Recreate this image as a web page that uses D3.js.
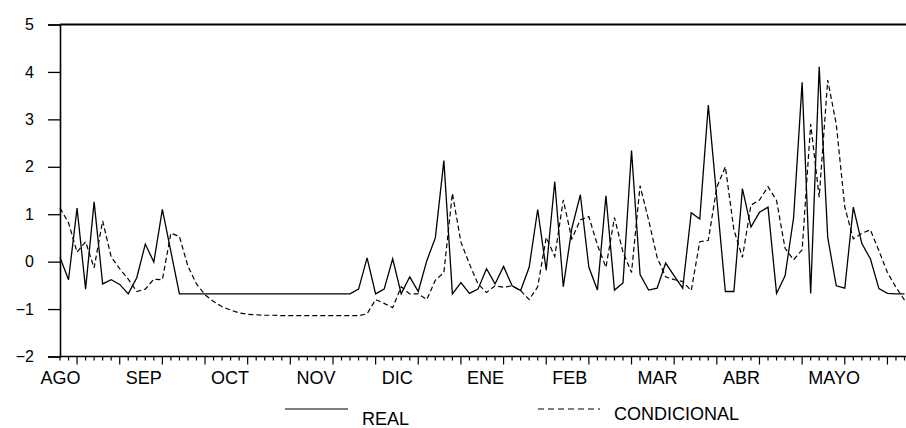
<!DOCTYPE html>
<html lang="es">
<head>
  <meta charset="utf-8">
  <title>Real vs condicional</title>
  <script src="https://d3js.org/d3.v7.min.js"></script>
  <style>
    body { margin: 0; background: #fff; }
    text { font-family: "Liberation Sans", Arial, sans-serif; fill: #000; }
  </style>
</head>
<body>
<svg id="chart" width="906" height="428"></svg>
<script>
  // month labels, one every 10 observations
  const months = ['AGO', 'SEP', 'OCT', 'NOV', 'DIC', 'ENE', 'FEB', 'MAR', 'ABR', 'MAYO']
  const yTicks = [-2, -1, 0, 1, 2, 3, 4, 5]

  // REAL series (solid)
  const real = [
    0.09, -0.38, 1.13, -0.58, 1.26, -0.47, -0.38, -0.48, -0.68, -0.34,
    0.37, -0.01, 1.10, 0.21, -0.68, -0.68, -0.68, -0.68, -0.68, -0.68,
    -0.68, -0.68, -0.68, -0.68, -0.68, -0.68, -0.68, -0.68, -0.68, -0.68,
    -0.68, -0.68, -0.68, -0.68, -0.68, -0.58, 0.08, -0.68, -0.58, 0.06,
    -0.68, -0.32, -0.63, 0.02, 0.50, 2.13, -0.68, -0.44, -0.67, -0.58,
    -0.15, -0.47, -0.10, -0.51, -0.61, -0.12, 1.10, -0.18, 1.69, -0.53,
    0.70, 1.41, -0.12, -0.60, 1.39, -0.60, -0.45, 2.34, -0.27, -0.60,
    -0.56, -0.03, -0.30, -0.56, 1.03, 0.90, 3.30, 1.33, -0.63, -0.63,
    1.54, 0.73, 1.04, 1.15, -0.67, -0.30, 0.93, 3.78, -0.67, 4.11,
    0.51, -0.51, -0.56, 1.15, 0.38, 0.06, -0.57, -0.67, -0.68, -0.68
  ]

  // CONDICIONAL series (dashed)
  const condicional = [
    1.13, 0.82, 0.20, 0.42, -0.13, 0.86, 0.10, -0.15, -0.37, -0.63,
    -0.58, -0.37, -0.38, 0.60, 0.53, -0.10, -0.47, -0.70, -0.84, -0.95,
    -1.02, -1.08, -1.11, -1.12, -1.13, -1.13, -1.14, -1.14, -1.14, -1.14,
    -1.14, -1.14, -1.14, -1.14, -1.14, -1.14, -1.10, -0.80, -0.88, -0.97,
    -0.53, -0.68, -0.68, -0.80, -0.39, -0.23, 1.44, 0.41, -0.05, -0.47,
    -0.65, -0.51, -0.54, -0.51, -0.61, -0.80, -0.53, 0.51, 0.11, 1.30,
    0.48, 0.88, 0.95, 0.35, -0.12, 0.93, 0.20, -0.23, 1.60, 0.88,
    0.09, -0.32, -0.38, -0.42, -0.61, 0.42, 0.45, 1.57, 2.00, 0.67,
    0.09, 1.19, 1.30, 1.58, 1.29, 0.28, 0.04, 0.25, 2.90, 1.36,
    3.83, 2.90, 1.15, 0.48, 0.60, 0.67, 0.23, -0.23, -0.54, -0.81
  ]

  const plotLeft = 60, plotRight = 906, plotTop = 24.5, plotBottom = 356.5

  const svg = d3.select("#chart")

  const x = d3.scaleLinear()
    .domain([0, real.length - 1])
    .range([plotLeft, 904.5])

  const y = d3.scaleLinear()
    .domain([-2, 5])
    .range([plotBottom, plotTop])

  // frame: top line
  svg.append("line")
    .attr("x1", plotLeft).attr("x2", plotRight)
    .attr("y1", plotTop).attr("y2", plotTop)
    .attr("stroke", "#000").attr("stroke-width", 2)

  // y axis
  const yAxis = svg.append("g")
    .attr("transform", `translate(${plotLeft},0)`)
    .call(d3.axisLeft(y).tickValues(yTicks).tickSize(12).tickPadding(14).tickFormat(d3.format("d")))
  yAxis.select(".domain").attr("stroke-width", 1.6)
  yAxis.selectAll(".tick line").attr("stroke-width", 1.3)
  yAxis.selectAll(".tick text")
    .attr("font-size", 16)
    .style("font-family", "'Liberation Sans', Arial, sans-serif")

  // bottom axis: a tick per observation, bigger tick every 5 (starting at 2)
  svg.append("line")
    .attr("x1", plotLeft).attr("x2", plotRight)
    .attr("y1", plotBottom).attr("y2", plotBottom)
    .attr("stroke", "#000").attr("stroke-width", 1.6)

  svg.append("g")
    .selectAll("line")
    .data(d3.range(real.length))
    .join("line")
      .attr("x1", d => x(d)).attr("x2", d => x(d))
      .attr("y1", plotBottom)
      .attr("y2", d => (d % 5 === 2) ? plotBottom + 8 : plotBottom + 4)
      .attr("stroke", "#000").attr("stroke-width", 1.2)

  svg.append("g")
    .selectAll("text")
    .data(months)
    .join("text")
      .attr("x", (d, i) => x(i * 10) - 19.5)
      .attr("y", 383.5)
      .attr("font-size", 18)
      .text(d => d)

  // series
  const line = d3.line()
    .x((d, i) => x(i))
    .y(d => y(d))

  svg.append("path")
    .datum(condicional)
    .attr("fill", "none")
    .attr("stroke", "#000")
    .attr("stroke-width", 1.2)
    .attr("stroke-dasharray", "5,3")
    .attr("d", line)

  svg.append("path")
    .datum(real)
    .attr("fill", "none")
    .attr("stroke", "#000")
    .attr("stroke-width", 1.3)
    .attr("d", line)

  // legend
  const legend = [
    { name: "REAL", x1: 285, x2: 348, tx: 362, ty: 425, dash: null },
    { name: "CONDICIONAL", x1: 538, x2: 600, tx: 614, ty: 420, dash: "6,4" }
  ]
  svg.append("g")
    .selectAll("line")
    .data(legend)
    .join("line")
      .attr("x1", d => d.x1).attr("x2", d => d.x2)
      .attr("y1", 409).attr("y2", 409)
      .attr("stroke", "#000").attr("stroke-width", 1.2)
      .attr("stroke-dasharray", d => d.dash)
  svg.append("g")
    .selectAll("text")
    .data(legend)
    .join("text")
      .attr("x", d => d.tx)
      .attr("y", d => d.ty)
      .attr("font-size", 18)
      .text(d => d.name)
</script>
</body>
</html>
